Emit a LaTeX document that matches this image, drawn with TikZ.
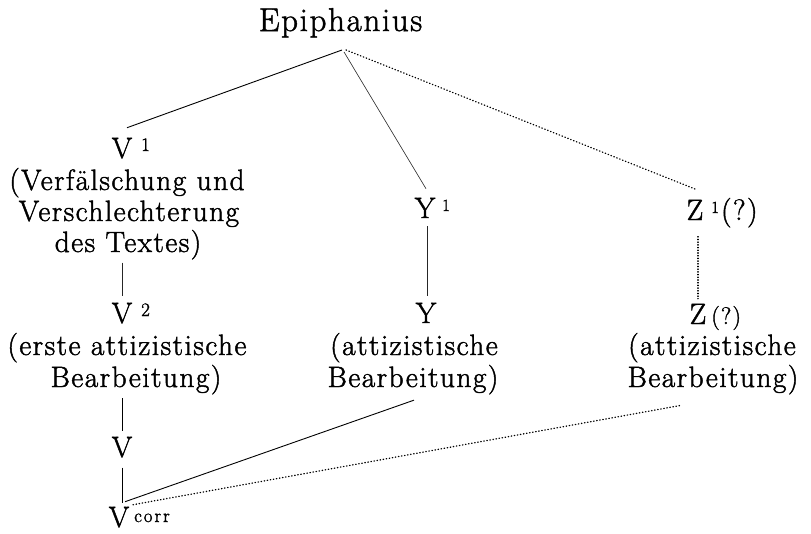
\documentclass[tikz,border=0pt]{standalone}
\usepackage{fontspec}
\setmainfont{Latin Modern Roman}[LetterSpace=5, FakeBold=1.5]
\newcommand{\supv}{\fontsize{19}{19}\selectfont}
\newcommand{\supy}{\fontsize{17}{17}\selectfont}
\newcommand{\corrf}{\fontsize{19}{19}\selectfont\addfontfeatures{LetterSpace=10}}
\tikzset{
  lbl/.style={inner sep=0pt, anchor=base, font=\fontsize{29.4}{31}\selectfont},
  big/.style={inner sep=0pt, anchor=base, font=\fontsize{33}{36}\selectfont},
  solidline/.style={line width=0.9pt, black},
  thinline/.style={line width=0.6pt, black!85},
  dotline/.style={line width=1.3pt, line cap=round, dash pattern=on 0.5pt off 2.6pt, black}
}
\begin{document}
\begin{tikzpicture}[x=1pt,y=-1pt]
\fill[white] (0,0) rectangle (811,533);
\useasboundingbox (0,0) rectangle (811,533);

% top
\node[big] (epi) at (340.5,31) {Epiphanius};
\coordinate (apex) at (342,50);

% left column
\node[lbl] (V1) at (122,158) {V\rlap{\kern9pt\raisebox{7pt}{\supv 1}}};
\node[lbl] (V1a) at (127,190) {(Verfälschung und};
\node[lbl] (V1b) at (129,221) {Verschlechterung};
\node[lbl] (V1c) at (128,252) {des Textes)};
\node[lbl] (V2) at (122,323) {V\rlap{\kern9pt\raisebox{7pt}{\supv 2}}};
\node[lbl] (V2a) at (127,355) {(erste attizistische};
\node[lbl] (V2b) at (136,387) {Bearbeitung)};
\node[lbl] (V) at (122,457) {V};
\node[lbl] (Vc) at (119,527) {V\rlap{\kern5pt\raisebox{5pt}{\corrf corr}}};

% middle column
\node[lbl] (Y1) at (425,218) {Y\rlap{\kern7pt\raisebox{7pt}{\supy 1}}};
\node[lbl] (Y) at (426,323) {Y};
\node[lbl] (Ya) at (414,355) {(attizistische};
\node[lbl] (Yb) at (413,387) {Bearbeitung)};

% right column
\node[lbl] (Z1) at (695,220) {Z\rlap{\kern8pt\raisebox{7pt}{\supy 1}\kern2pt(?)}};
\node[lbl] (Z) at (698,324) {Z\rlap{\kern5pt{\fontsize{24}{24}\selectfont(?)}}};
\node[lbl] (Za) at (712,355) {(attizistische};
\node[lbl] (Zb) at (713,387) {Bearbeitung)};

% connectors from Epiphanius
\draw[solidline] (apex) -- ([xshift=5pt,yshift=10pt]V1.north);
\draw[thinline] ([xshift=2pt,yshift=-2pt]apex) -- ([xshift=1pt,yshift=9pt]Y1.north);
\draw[dotline] ([xshift=4pt]apex) -- ([xshift=2pt,yshift=8pt]Z1.north);

% left verticals
\draw[thinline] ([yshift=-3pt]V1c.south -| V2.north) -- ([yshift=7pt]V2.north);
\draw[solidline] ([yshift=-3.6pt]V2b.south -| V.north) -- ([yshift=6pt]V.north);
\draw[solidline] ([yshift=-10pt]V.south) -- ([xshift=3pt,yshift=4pt]Vc.north);

% middle vertical
\draw[thinline] ([xshift=2pt,yshift=-8pt]Y1.south) -- ([xshift=1pt,yshift=7pt]Y.north);

% right vertical
\draw[dotline, line width=1.1pt, dash pattern=on 0.5pt off 2.2pt] ([yshift=-9pt]Z1.south -| Z.north) -- ([yshift=5pt]Z.north);

% to V corr
\draw[solidline] ([xshift=6pt,yshift=5pt]Vc.north) -- ([xshift=1pt,yshift=-5.6pt]Yb.south);
\draw[dotline] ([xshift=14pt,yshift=2pt]Vc.north) -- ([xshift=-31pt,yshift=-10.6pt]Zb.south);
\end{tikzpicture}
\end{document}
